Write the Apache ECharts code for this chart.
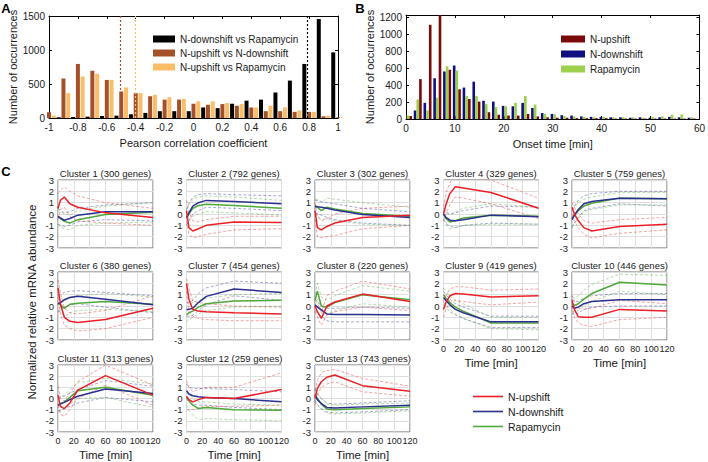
<!DOCTYPE html>
<html><head><meta charset="utf-8">
<script src="https://cdn.jsdelivr.net/npm/echarts@6/dist/echarts.min.js"></script>
<style>html,body{margin:0;padding:0;background:#fff}#c{width:708px;height:462px}</style>
</head><body><div id="c"></div>
<script>
const FONT = '"Liberation Sans", Arial, Helvetica, sans-serif';

// ---------- Panel A: Pearson correlation histogram ----------
const corrBins = [-1,-0.9,-0.8,-0.7,-0.6,-0.5,-0.4,-0.3,-0.2,-0.1,0,0.1,0.2,0.3,0.4,0.5,0.6,0.7,0.8,0.9,1];
const corrDownVsRapa = [0,10,15,20,30,35,55,75,100,100,100,155,145,210,255,270,375,550,795,1455,965];
const corrUpVsDown   = [85,580,795,695,560,390,365,320,270,270,210,195,205,180,155,100,100,90,90,25,10];
const corrUpVsRapa   = [35,365,610,650,560,450,365,340,305,280,245,245,220,205,155,180,155,110,90,35,10];
const corrMeanLines  = {downVsRapa: 0.79, upVsDown: -0.51, upVsRapa: -0.4};

// ---------- Panel B: onset time histogram ----------
const onsetTime = [0,2,4,6,8,10,12,14,16,18,20,22,24,26,28,30,32,34,36,38,40,42,44,46,48,50,52,54,56,58];
const onsetUp   = [35,470,1110,1250,580,350,235,205,80,50,40,40,60,30,20,15,15,10,10,10,10,5,5,5,5,5,5,5,5,5];
const onsetDown = [0,100,190,480,560,630,370,440,215,205,155,150,190,130,70,60,45,40,30,25,25,20,20,15,20,15,20,25,20,15];
const onsetRapa = [40,230,100,250,620,570,270,270,175,140,150,190,270,170,60,55,35,30,25,20,25,20,20,20,15,25,30,50,55,20];

// ---------- Panel C: cluster time courses ----------
const timePoints = [0,3,8,15,25,60,120];
const clusterTitles = ['Cluster 1 (300 genes)','Cluster 2 (792 genes)','Cluster 3 (302 genes)','Cluster 4 (329 genes)','Cluster 5 (759 genes)','Cluster 6 (380 genes)','Cluster 7 (454 genes)','Cluster 8 (220 genes)','Cluster 9 (419 genes)','Cluster 10 (446 genes)','Cluster 11 (313 genes)','Cluster 12 (259 genes)','Cluster 13 (743 genes)'];
const cluster1 = {up:[0.5,1.2,1.5,0.9,0.6,0.1,-0.3], upLo:[-0.5,0.4,0.6,-0.2,-0.6,-0.8,-1.0], upHi:[1.8,2.1,2.4,2.0,1.6,1.0,0.5],
  down:[-0.2,-0.35,-0.55,-0.4,-0.1,0.2,0.2], downLo:[-0.9,-1.0,-1.1,-1.0,-0.7,-0.5,-0.6], downHi:[0.5,0.3,0.1,0.2,0.5,0.8,1.0],
  rapa:[-0.2,-0.4,-0.65,-0.8,-0.5,-0.05,0.15], rapaLo:[-0.9,-1.1,-1.3,-1.4,-1.0,-0.8,-0.7], rapaHi:[0.5,0.2,0.0,-0.1,0.3,0.7,1.0]};
const cluster2 = {up:[0.3,-1.2,-1.5,-1.3,-1.0,-0.7,-0.75], upLo:[-0.6,-1.8,-2.1,-2.0,-1.8,-1.4,-1.3], upHi:[1.2,0.2,-0.6,-0.7,-0.5,-0.2,-0.2],
  down:[-0.3,0.1,0.7,1.0,1.2,1.1,0.9], downLo:[-1.0,-0.6,0.0,0.3,0.6,0.5,0.3], downHi:[0.4,0.9,1.5,1.7,1.8,1.7,1.6],
  rapa:[-0.4,0.0,0.5,0.75,0.85,0.75,0.5], rapaLo:[-1.0,-0.6,-0.2,0.0,0.2,0.1,-0.1], rapaHi:[0.3,0.8,1.3,1.5,1.6,1.5,1.2]};
const cluster3 = {up:[0.3,-1.2,-1.4,-1.1,-0.8,-0.3,-0.1], upLo:[-0.5,-2.0,-2.1,-2.0,-1.9,-1.3,-1.0], upHi:[1.0,-0.2,-0.6,-0.4,0.0,0.5,0.7],
  down:[0.7,0.65,0.6,0.5,0.35,-0.05,-0.3], downLo:[0.1,0.0,-0.1,-0.3,-0.5,-0.8,-1.0], downHi:[1.2,1.2,1.1,1.0,0.9,0.5,0.2],
  rapa:[0.6,0.6,0.3,0.6,0.45,0.05,-0.2], rapaLo:[0.0,-0.2,-0.5,-0.4,-0.6,-0.9,-1.0], rapaHi:[1.3,1.3,1.0,1.4,1.3,1.0,0.6]};
const cluster4 = {up:[0,0.8,1.8,2.4,2.3,1.9,0.5], upLo:[-0.6,0,0.8,1.5,1.4,0.9,-0.4], upHi:[0.6,1.8,2.8,3.2,3.2,3.0,1.4],
  down:[0,-0.3,-0.55,-0.6,-0.5,-0.1,-0.25], downLo:[-0.5,-0.8,-1.1,-1.2,-1.0,-0.8,-0.9], downHi:[0.5,0.2,0.0,0.1,0.3,0.7,0.6],
  rapa:[0,-0.4,-0.7,-0.6,-0.35,-0.1,-0.2], rapaLo:[-0.5,-0.9,-1.3,-1.2,-1.0,-0.9,-0.9], rapaHi:[0.4,0.1,-0.1,0.2,0.5,0.9,0.6]};
const cluster5 = {up:[0.6,0.0,-0.6,-1.2,-1.5,-1.1,-0.9], upLo:[0.0,-0.6,-1.2,-1.8,-2.1,-1.7,-1.4], upHi:[1.0,0.6,0.0,-0.6,-0.8,-0.5,-0.3],
  down:[-0.5,-0.1,0.4,0.9,1.1,1.4,1.35], downLo:[-1.2,-0.8,-0.3,0.3,0.5,0.9,0.7], downHi:[0.3,0.7,1.2,1.6,1.8,2.0,2.0],
  rapa:[-0.4,-0.1,0.3,0.7,0.95,1.4,1.35], rapaLo:[-1.1,-0.8,-0.4,0.2,0.4,0.8,0.8], rapaHi:[0.4,0.6,1.0,1.3,1.5,1.9,1.9]};
const cluster6 = {up:[1.6,0.2,-1.0,-1.35,-1.45,-1.2,-0.2], upLo:[0.8,-0.7,-1.7,-2.0,-2.2,-2.0,-1.0], upHi:[2.3,1.2,-0.2,-0.6,-0.7,-0.4,0.9],
  down:[0.2,0.3,0.55,0.75,0.85,0.6,0.1], downLo:[-0.5,-0.4,-0.1,0.1,0.2,-0.1,-0.6], downHi:[0.9,1.0,1.2,1.3,1.35,1.2,0.9],
  rapa:[0.25,0.1,-0.2,0.15,0.25,0.4,0.15], rapaLo:[-0.4,-0.5,-0.9,-0.6,-0.4,-0.3,-0.5], rapaHi:[0.9,0.7,0.5,0.8,0.9,1.1,0.8]};
const cluster7 = {up:[2.0,0.6,-0.3,-0.45,-0.5,-0.6,-0.7], upLo:[1.3,-0.5,-0.9,-1.1,-1.2,-1.3,-1.3], upHi:[2.4,1.6,0.4,0.3,0.2,0.0,-0.1],
  down:[-0.3,-0.3,-0.2,0.3,0.85,1.5,1.2], downLo:[-0.9,-0.9,-0.8,-0.4,0.1,0.9,0.5], downHi:[0.3,0.3,0.5,1.1,1.6,2.2,2.0],
  rapa:[-0.8,-0.6,-0.45,-0.1,0.2,0.45,0.5], rapaLo:[-1.4,-1.2,-1.0,-0.7,-0.4,-0.1,0.0], rapaHi:[-0.1,0.1,0.3,0.5,0.7,1.0,1.1]};
const cluster8 = {up:[0.0,-0.5,-1.1,0.0,0.35,1.05,0.4], upLo:[-0.5,-1.0,-1.7,-0.8,-0.5,-0.1,-0.4], upHi:[0.5,0.2,-0.5,0.9,1.3,2.2,1.5],
  down:[0.1,-0.1,-0.35,-0.7,-0.75,-0.75,-0.8], downLo:[-0.4,-0.6,-0.9,-1.3,-1.4,-1.4,-1.4], downHi:[0.6,0.4,0.0,-0.2,-0.2,-0.1,-0.2],
  rapa:[0.5,1.3,0.0,-0.1,0.3,1.0,0.55], rapaLo:[0.0,0.6,-0.6,-0.7,-0.4,0.2,-0.1], rapaHi:[1.0,2.0,0.8,0.5,0.9,1.8,1.3]};
const cluster9 = {up:[-0.3,0.3,0.9,1.1,1.05,0.8,0.9], upLo:[-1.0,-0.3,0.3,0.5,0.4,0.1,0.35], upHi:[0.4,0.9,1.5,1.7,1.7,1.4,1.5],
  down:[0.75,0.5,0.1,-0.3,-0.6,-1.4,-1.4], downLo:[0.1,-0.1,-0.5,-0.8,-1.1,-1.9,-1.9], downHi:[1.3,1.0,0.6,0.2,-0.1,-0.9,-0.9],
  rapa:[1.0,0.7,0.3,-0.1,-0.45,-1.5,-1.5], rapaLo:[0.3,0.1,-0.3,-0.7,-1.1,-2.0,-2.1], rapaHi:[1.6,1.3,0.9,0.5,0.2,-1.0,-1.0]};
const cluster10 = {up:[0.5,-0.3,-0.95,-1.0,-1.0,-0.3,-0.45], upLo:[0.0,-1.0,-1.5,-1.7,-1.8,-1.2,-1.0], upHi:[1.0,0.4,-0.2,-0.3,-0.2,0.5,0.2],
  down:[0.0,-0.2,-0.1,0.2,0.4,0.55,0.55], downLo:[-0.6,-0.8,-0.6,-0.3,-0.1,0.0,0.0], downHi:[0.6,0.4,0.4,0.7,0.9,1.1,1.1],
  rapa:[0.2,0.05,0.2,0.6,1.1,2.1,1.85], rapaLo:[-0.4,-0.5,-0.4,0.0,0.4,1.3,1.0], rapaHi:[0.8,0.7,0.9,1.4,1.9,2.8,2.7]};
const cluster11 = {up:[0.3,-0.7,-0.9,-0.4,0.75,2.05,0.3], upLo:[-0.6,-1.4,-1.6,-1.0,0.0,1.2,-0.6], upHi:[1.1,0.0,-0.2,0.5,1.5,3.0,1.2],
  down:[-0.6,-0.5,-0.35,-0.1,0.2,0.85,0.45], downLo:[-1.1,-1.1,-0.9,-0.7,-0.4,0.1,-0.3], downHi:[0.0,0.1,0.2,0.5,0.8,1.6,1.1],
  rapa:[-0.55,-0.45,-0.3,0.1,0.7,1.0,0.3], rapaLo:[-1.1,-1.1,-0.9,-0.5,0.0,0.1,-0.8], rapaHi:[0.0,0.2,0.3,0.8,1.4,1.8,1.3]};
const cluster12 = {up:[0.2,-0.1,-0.3,-0.1,0.1,0.0,0.8], upLo:[-1.0,-1.0,-1.0,-0.8,-0.7,-0.7,-0.6], upHi:[1.6,1.0,0.6,0.8,1.0,1.0,2.3],
  down:[0.7,0.4,0.25,0.15,0.1,0.0,-0.3], downLo:[0.0,-0.3,-0.5,-0.6,-0.6,-0.8,-1.0], downHi:[1.3,1.0,0.9,0.9,0.9,0.8,0.6],
  rapa:[0.1,-0.2,-0.6,-0.9,-0.8,-1.0,-1.05], rapaLo:[-0.6,-1.0,-1.5,-1.9,-1.8,-1.9,-2.0], rapaHi:[0.6,0.4,0.0,-0.3,-0.3,-0.5,-0.6]};
const cluster13 = {up:[0.0,0.9,1.5,1.9,2.1,1.15,0.65], upLo:[-0.6,0.3,1.0,1.3,1.5,0.6,0.2], upHi:[0.7,1.6,2.3,2.5,2.6,1.8,1.1],
  down:[0.3,-0.1,-0.45,-0.8,-0.85,-0.75,-0.6], downLo:[-0.2,-0.6,-0.9,-1.2,-1.3,-1.2,-1.0], downHi:[0.8,0.4,0.0,-0.4,-0.5,-0.4,-0.2],
  rapa:[0.4,0.0,-0.5,-0.95,-1.0,-0.9,-0.75], rapaLo:[-0.1,-0.5,-1.0,-1.3,-1.4,-1.3,-1.1], rapaHi:[1.0,0.5,0.0,-0.5,-0.6,-0.5,-0.4]};
const clusters = [cluster1,cluster2,cluster3,cluster4,cluster5,cluster6,cluster7,cluster8,cluster9,cluster10,cluster11,cluster12,cluster13];

// ---------- build ----------
const txt = (size, extra) => Object.assign({fontFamily: FONT, fontSize: size, color: '#1a1a1a'}, extra || {});
const plain = v => String(v);
const grids = [], xAxes = [], yAxes = [], series = [], graphics = [];

function boxAxes(gi, xmin, xmax, xint, ymin, ymax, yint, xname, yname, yNameGap, yFmt) {
  const line = {show: true, onZero: false, lineStyle: {color: '#000', width: 1}};
  const tick = {show: true, inside: true, length: 3, lineStyle: {color: '#000', width: 1}};
  xAxes.push({type: 'value', gridIndex: gi, min: xmin, max: xmax, interval: xint, axisLine: line, axisTick: tick,
    axisLabel: txt(10, {margin: 4, formatter: plain, showMinLabel: true, showMaxLabel: true}), splitLine: {show: false},
    name: xname, nameLocation: 'middle', nameGap: 19, nameTextStyle: txt(11)});
  xAxes.push({type: 'value', gridIndex: gi, position: 'top', min: xmin, max: xmax, interval: xint, axisLine: line, axisTick: tick,
    axisLabel: {show: false}, splitLine: {show: false}});
  yAxes.push({type: 'value', gridIndex: gi, min: ymin, max: ymax, interval: yint, axisLine: line, axisTick: tick,
    axisLabel: txt(10, {margin: 4, formatter: yFmt || plain, showMinLabel: true, showMaxLabel: true}), splitLine: {show: false},
    name: yname, nameLocation: 'middle', nameGap: yNameGap, nameTextStyle: txt(11)});
  yAxes.push({type: 'value', gridIndex: gi, position: 'right', min: ymin, max: ymax, interval: yint, axisLine: line, axisTick: tick,
    axisLabel: {show: false}, splitLine: {show: false}});
}

// Panel A
grids.push({left: 49, top: 16, width: 289, height: 102});
boxAxes(0, -1, 1, 0.2, 0, 1500, 500, 'Pearson correlation coefficient', 'Number of occurrences', 26);
const aSeries = [
  {name: 'N-downshift vs Rapamycin', vals: corrDownVsRapa, color: '#000000', off: -0.033, mark: corrMeanLines.downVsRapa},
  {name: 'N-upshift vs N-downshift', vals: corrUpVsDown, color: '#a4512a', off: 0, mark: corrMeanLines.upVsDown},
  {name: 'N-upshift vs Rapamycin', vals: corrUpVsRapa, color: '#fbbd68', off: 0.033, mark: corrMeanLines.upVsRapa}
];
aSeries.forEach(s => series.push({
  type: 'bar', name: s.name, xAxisIndex: 0, yAxisIndex: 0, barWidth: 4, barGap: '-100%',
  itemStyle: {color: s.color}, clip: true,
  data: corrBins.map((b, i) => [b + s.off, s.vals[i]]),
  markLine: {silent: true, symbol: 'none', label: {show: false},
    lineStyle: {color: s.color, type: [2, 2], width: 1.2}, data: [{xAxis: s.mark}]}
}));

// Panel B
grids.push({left: 406, top: 15, width: 299, height: 104});
boxAxes(1, 0, 60, 10, 0, 1225, 200, 'Onset time [min]', 'Number of occurrences', 31, v => (v % 200 === 0 ? String(v) : ''));
const bSeries = [
  {name: 'N-upshift', vals: onsetUp, color: '#7a0a0a', off: 0.95},
  {name: 'N-downshift', vals: onsetDown, color: '#101080', off: -0.15},
  {name: 'Rapamycin', vals: onsetRapa, color: '#9ccf4a', off: 0.4}
];
bSeries.forEach(s => series.push({
  type: 'bar', name: s.name, xAxisIndex: 2, yAxisIndex: 2, barWidth: 2.6, barGap: '-100%', clip: true,
  itemStyle: {color: s.color},
  data: onsetTime.map((t, i) => [t + s.off, s.vals[i]])
}));

// Panel C
const colLeft = [58, 186.5, 315, 443.5, 572];
const rowTop = [180, 272, 365];
const PW = 95, PH = 68;
const cPos = [[0,0],[1,0],[2,0],[3,0],[4,0],[0,1],[1,1],[2,1],[3,1],[4,1],[0,2],[1,2],[2,2]];
const bottomPlots = [8, 9, 10, 11, 12];
const cColors = {up: '#ec1f26', down: '#2b2f8e', rapa: '#4fa83a'};
const cNames = {up: 'C:N-upshift', down: 'C:N-downshift', rapa: 'C:Rapamycin'};

clusters.forEach((cl, k) => {
  const gi = grids.length;
  const [c, r] = cPos[k];
  const left = colLeft[c], top = rowTop[r];
  const isBottom = bottomPlots.includes(k);
  grids.push({left: left, top: top, width: PW, height: PH, show: true, borderColor: '#6b6b6b', borderWidth: 1, backgroundColor: '#fff'});
  const xi = xAxes.length, yi = yAxes.length;
  xAxes.push({type: 'value', gridIndex: gi, min: 0, max: 120, interval: 20,
    axisLine: {show: false}, axisTick: {show: false},
    axisLabel: isBottom ? txt(9, {margin: 4, color: '#222', showMinLabel: true, showMaxLabel: true, hideOverlap: false}) : {show: false},
    splitLine: {show: true, lineStyle: {color: '#dedede', width: 1}},
    name: isBottom ? 'Time [min]' : '', nameLocation: 'middle', nameGap: 17, nameTextStyle: txt(11.5)});
  yAxes.push({type: 'value', gridIndex: gi, min: -3, max: 3, interval: 1,
    axisLine: {show: false}, axisTick: {show: false},
    axisLabel: txt(9.5, {margin: 4, color: '#222', showMinLabel: true, showMaxLabel: true}),
    splitLine: {show: true, lineStyle: {color: '#dedede', width: 1}}});
  graphics.push({type: 'text', x: left + PW / 2, y: top - 7,
    style: {text: clusterTitles[k], fontFamily: FONT, fontSize: 9.5, fill: '#1a1a1a', align: 'center', verticalAlign: 'middle'}});
  const mk = (arr) => timePoints.map((t, i) => [t, arr[i]]);
  ['up', 'down', 'rapa'].forEach(key => {
    ['Lo', 'Hi'].forEach(b => series.push({type: 'line', xAxisIndex: xi, yAxisIndex: yi, symbol: 'none', silent: true, clip: true,
      lineStyle: {color: cColors[key], width: 0.7, type: [3, 2], opacity: 0.6}, data: mk(cl[key + b])}));
  });
  ['rapa', 'down', 'up'].forEach(key => series.push({type: 'line', name: cNames[key], xAxisIndex: xi, yAxisIndex: yi,
    symbol: 'none', silent: true, clip: true, itemStyle: {color: cColors[key]},
    lineStyle: {color: cColors[key], width: 1.5}, data: mk(cl[key])}));
});

// free text
graphics.push({type: 'text', x: 6, y: 8, style: {text: 'A', fontFamily: FONT, fontSize: 13, fontWeight: 'bold', fill: '#000', align: 'center', verticalAlign: 'middle'}});
graphics.push({type: 'text', x: 360, y: 8, style: {text: 'B', fontFamily: FONT, fontSize: 13, fontWeight: 'bold', fill: '#000', align: 'center', verticalAlign: 'middle'}});
graphics.push({type: 'text', x: 6, y: 171, style: {text: 'C', fontFamily: FONT, fontSize: 13, fontWeight: 'bold', fill: '#000', align: 'center', verticalAlign: 'middle'}});
graphics.push({type: 'text', x: 32, y: 302, rotation: Math.PI / 2,
  style: {text: 'Normalized relative mRNA abundance', fontFamily: FONT, fontSize: 11.5, fill: '#1a1a1a', align: 'center', verticalAlign: 'middle'}});

const option = {
  animation: false,
  backgroundColor: '#fff',
  grid: grids, xAxis: xAxes, yAxis: yAxes, series: series, graphic: graphics,
  legend: [
    {orient: 'vertical', left: 148, top: 29, itemWidth: 22, itemHeight: 7, itemGap: 4, icon: 'rect', selectedMode: false,
     textStyle: txt(10, {lineHeight: 10}), data: aSeries.map(s => s.name)},
    {orient: 'vertical', left: 556, top: 29, itemWidth: 24, itemHeight: 7, itemGap: 5, icon: 'rect', selectedMode: false,
     textStyle: txt(10, {lineHeight: 10}), data: bSeries.map(s => s.name)},
    {orient: 'vertical', left: 468, top: 386, itemWidth: 30, itemHeight: 1.6, itemGap: 4, icon: 'rect', selectedMode: false,
     textStyle: txt(10.5, {lineHeight: 11}), formatter: n => n.replace(/^C:/, ''), data: [cNames.up, cNames.down, cNames.rapa]}
  ]
};
const chart = echarts.init(document.getElementById('c'), null, {renderer: 'svg', width: 708, height: 462});
chart.setOption(option);
</script></body></html>
